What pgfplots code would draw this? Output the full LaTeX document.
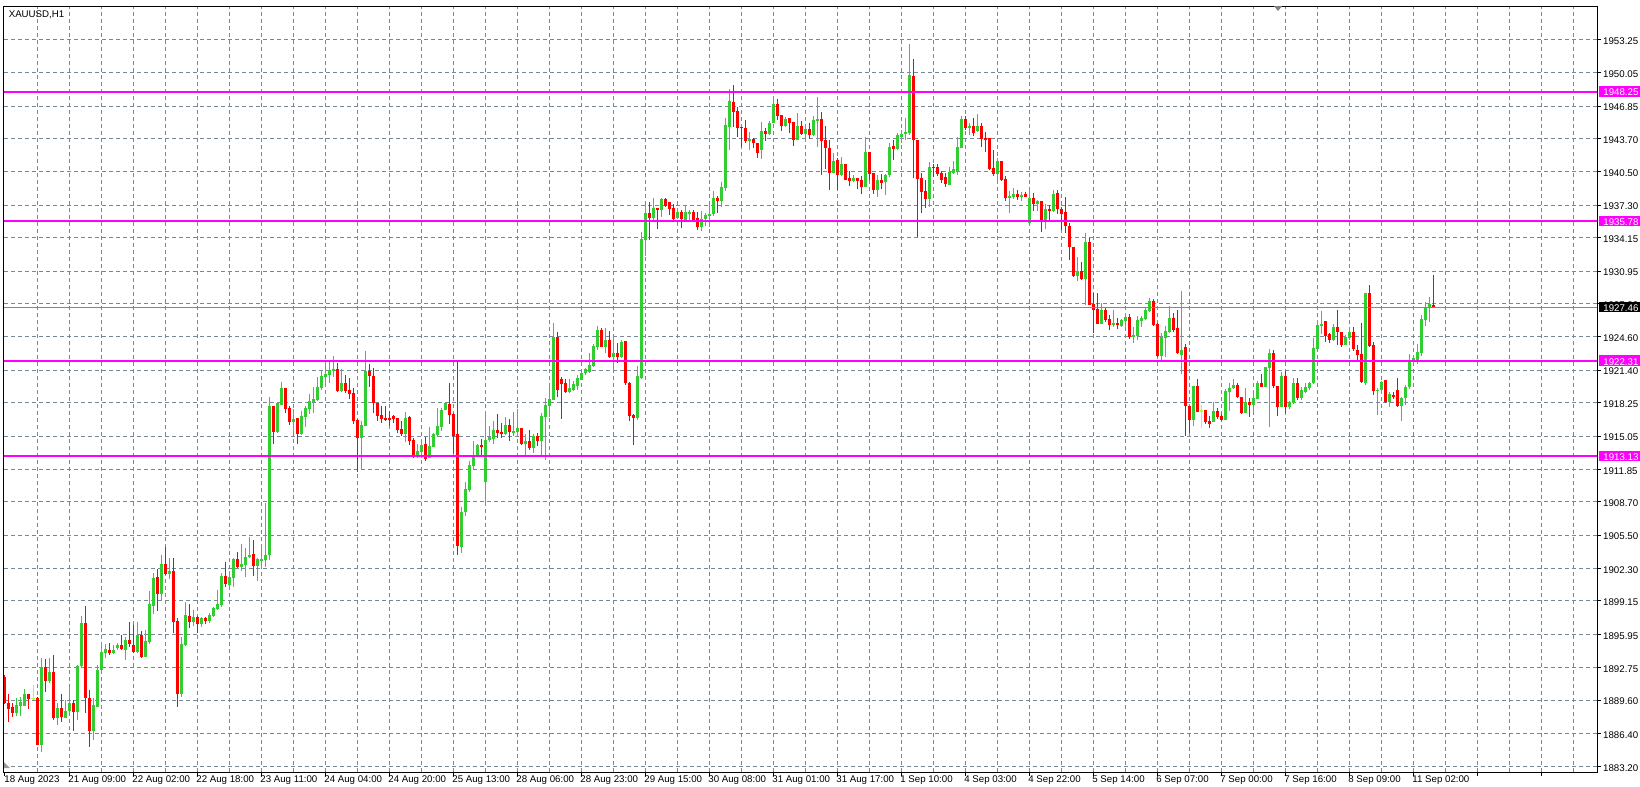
\documentclass[border=0pt]{standalone}
\usepackage{pgfplots}
\pgfplotsset{compat=1.18}
\usepackage{pgfplotstable}
\usepackage{fontspec}
\setmainfont{Liberation Sans}
\definecolor{gridc}{HTML}{778899}
\definecolor{bull}{HTML}{32CD32}
\definecolor{bear}{HTML}{FF0000}
\definecolor{dojic}{HTML}{ADFF2F}
\definecolor{mag}{HTML}{FF00FF}
\newcommand{\lab}{\fontsize{4.85pt}{5.8pt}\selectfont}
\pgfplotstableread{
k O H L C
0 1891.80 1892.00 1889.20 1889.35
1 1889.35 1890.25 1887.52 1888.77
2 1888.90 1889.29 1888.00 1888.39
3 1888.33 1889.77 1888.07 1889.13
4 1889.03 1889.87 1888.07 1889.42
5 1889.06 1890.70 1889.06 1890.19
6 1890.19 1890.19 1888.71 1889.74
7 1889.77 1891.06 1889.61 1889.77
8 1889.80 1889.87 1885.27 1885.27
9 1885.27 1893.63 1884.57 1892.76
10 1892.76 1893.53 1890.41 1891.47
11 1891.47 1893.63 1891.22 1892.34
12 1892.34 1893.95 1887.68 1887.91
13 1887.91 1889.29 1887.20 1888.84
14 1888.84 1890.25 1887.52 1887.97
15 1887.91 1889.61 1887.84 1888.58
16 1888.58 1890.89 1888.33 1889.29
17 1889.29 1889.61 1886.66 1888.49
18 1888.49 1892.98 1887.68 1892.89
19 1892.89 1897.70 1892.66 1897.06
20 1897.06 1898.67 1888.33 1889.84
21 1889.84 1890.57 1885.11 1886.66
22 1886.66 1889.77 1885.76 1889.13
23 1888.97 1892.98 1888.90 1892.50
24 1892.50 1895.07 1892.34 1894.24
25 1894.17 1895.01 1893.63 1894.49
26 1894.49 1895.07 1893.95 1894.14
27 1894.14 1894.91 1894.04 1894.49
28 1894.62 1895.07 1894.43 1894.91
29 1894.91 1895.87 1894.43 1894.49
30 1894.43 1895.71 1893.46 1895.39
31 1895.39 1897.09 1894.75 1894.97
32 1894.97 1896.84 1894.17 1894.27
33 1894.27 1897.09 1894.17 1895.87
34 1895.88 1896.26 1893.69 1893.79
35 1893.79 1896.36 1893.79 1895.30
36 1895.24 1900.15 1894.98 1898.87
37 1898.70 1901.88 1897.90 1901.37
38 1901.47 1902.24 1898.22 1899.86
39 1899.86 1903.59 1899.19 1902.72
40 1902.72 1904.36 1901.66 1901.76
41 1901.76 1903.27 1901.27 1902.05
42 1902.05 1903.30 1896.10 1897.16
43 1897.23 1897.48 1888.97 1890.22
44 1890.22 1895.72 1889.93 1895.01
45 1894.91 1899.06 1894.82 1897.77
46 1897.71 1898.87 1896.58 1897.16
47 1897.16 1898.29 1896.74 1897.61
48 1897.61 1897.71 1896.10 1896.97
49 1896.97 1897.64 1896.68 1897.52
50 1897.52 1897.64 1896.94 1897.23
51 1897.23 1897.97 1897.07 1897.80
52 1897.74 1898.54 1897.64 1898.48
53 1898.35 1900.21 1898.29 1898.83
54 1898.77 1901.82 1898.61 1901.56
55 1901.56 1902.91 1900.54 1900.79
56 1900.70 1902.08 1900.54 1901.47
57 1901.40 1903.33 1900.54 1903.20
58 1903.20 1903.88 1902.30 1902.46
59 1902.46 1904.65 1902.08 1902.72
60 1902.62 1904.26 1901.50 1903.39
61 1903.39 1905.32 1903.33 1903.59
62 1903.68 1905.03 1901.56 1902.53
63 1902.53 1903.27 1901.11 1903.20
64 1903.01 1904.54 1902.30 1903.20
65 1903.11 1908.56 1902.40 1903.59
66 1903.59 1918.77 1903.10 1917.94
67 1917.94 1917.94 1914.28 1915.43
68 1915.43 1918.26 1915.37 1918.20
69 1918.04 1920.25 1918.04 1919.64
70 1919.64 1919.64 1917.30 1917.62
71 1917.72 1917.94 1916.11 1916.43
72 1916.40 1917.62 1915.47 1916.69
73 1916.75 1916.75 1914.28 1915.24
74 1915.24 1917.49 1915.14 1916.98
75 1916.91 1917.94 1915.95 1917.72
76 1917.65 1919.16 1917.17 1918.42
77 1918.33 1919.80 1917.30 1918.61
78 1918.52 1920.77 1918.45 1919.80
79 1919.64 1921.41 1919.48 1920.83
80 1920.77 1922.21 1919.74 1921.02
81 1920.93 1922.21 1920.12 1921.41
82 1921.34 1922.79 1920.70 1921.54
83 1921.50 1922.12 1919.32 1919.39
84 1919.39 1921.47 1919.32 1920.19
85 1920.19 1920.93 1919.16 1919.42
86 1919.48 1920.61 1918.61 1919.10
87 1919.23 1919.64 1916.21 1916.53
88 1916.59 1916.69 1911.61 1914.89
89 1914.89 1916.53 1911.84 1916.11
90 1916.01 1923.24 1916.01 1921.31
91 1921.31 1922.05 1919.80 1920.83
92 1920.83 1921.57 1917.23 1918.20
93 1918.20 1918.20 1916.53 1916.98
94 1917.04 1917.94 1916.33 1916.72
95 1916.75 1917.94 1916.53 1916.65
96 1916.75 1917.49 1916.01 1916.65
97 1916.98 1917.07 1916.33 1916.72
98 1916.75 1916.75 1915.37 1915.63
99 1915.72 1916.52 1915.05 1915.24
100 1915.24 1917.39 1914.50 1916.84
101 1916.84 1916.97 1914.18 1914.59
102 1914.66 1914.82 1912.89 1913.12
103 1913.12 1914.24 1912.89 1913.60
104 1913.54 1914.72 1912.89 1914.24
105 1914.34 1914.92 1912.64 1912.89
106 1912.89 1915.94 1912.89 1914.08
107 1914.02 1915.37 1913.95 1915.24
108 1915.14 1917.81 1914.98 1916.01
109 1915.94 1917.71 1915.56 1917.55
110 1917.55 1918.35 1917.55 1918.26
111 1918.19 1920.18 1916.20 1917.07
112 1917.17 1917.23 1913.44 1915.05
113 1915.24 1922.30 1903.58 1904.44
114 1904.38 1908.23 1903.80 1907.75
115 1907.75 1910.64 1907.34 1909.91
116 1909.84 1912.64 1909.68 1912.25
117 1912.15 1914.56 1911.77 1913.21
118 1913.12 1914.34 1913.05 1914.18
119 1914.24 1914.72 1913.21 1914.02
120 1910.64 1917.49 1908.72 1914.72
121 1914.66 1916.01 1914.50 1914.98
122 1914.82 1916.49 1914.34 1915.62
123 1915.62 1917.23 1914.92 1915.37
124 1915.46 1916.27 1914.82 1915.24
125 1915.24 1916.84 1915.14 1916.11
126 1916.11 1916.65 1914.59 1915.46
127 1915.46 1917.39 1915.05 1915.53
128 1915.46 1917.62 1915.05 1915.85
129 1915.85 1915.85 1914.18 1914.34
130 1914.27 1915.24 1913.21 1914.56
131 1914.57 1915.63 1913.70 1913.93
132 1913.93 1915.21 1913.38 1915.05
133 1915.05 1915.37 1914.09 1914.60
134 1914.60 1917.24 1913.22 1916.98
135 1916.92 1918.68 1912.74 1918.04
136 1917.94 1919.97 1916.92 1918.59
137 1918.52 1925.91 1918.52 1924.56
138 1924.56 1925.11 1918.84 1919.49
139 1920.52 1920.77 1916.66 1920.06
140 1920.19 1920.52 1919.16 1919.33
141 1919.30 1920.52 1919.23 1919.65
142 1919.49 1920.39 1919.42 1920.06
143 1919.87 1920.93 1919.49 1920.61
144 1920.51 1921.25 1920.45 1921.16
145 1921.09 1921.57 1920.93 1921.48
146 1921.25 1923.02 1921.16 1921.90
147 1921.80 1923.89 1921.74 1923.73
148 1923.67 1925.66 1923.34 1925.27
149 1925.27 1925.43 1923.67 1923.67
150 1923.67 1925.49 1923.08 1924.31
151 1924.31 1925.17 1922.54 1922.70
152 1922.70 1924.69 1921.41 1923.08
153 1923.08 1924.05 1922.12 1922.70
154 1922.70 1924.31 1922.54 1924.11
155 1924.21 1924.21 1919.97 1920.13
156 1920.19 1920.29 1916.53 1916.98
157 1917.08 1917.17 1914.18 1916.82
158 1916.82 1921.80 1916.60 1920.84
159 1920.61 1934.75 1920.51 1934.01
160 1933.94 1937.47 1932.40 1936.51
161 1936.51 1937.57 1933.94 1936.09
162 1936.09 1937.96 1935.64 1936.99
163 1937.06 1937.06 1934.97 1936.83
164 1936.83 1938.02 1936.19 1937.86
165 1937.86 1937.95 1937.09 1937.25
166 1937.57 1937.57 1936.35 1936.92
167 1937.02 1937.38 1935.70 1935.96
168 1936.03 1936.89 1935.96 1936.60
169 1936.60 1936.83 1935.13 1935.96
170 1935.86 1937.25 1935.80 1936.60
171 1936.44 1936.83 1935.70 1936.60
172 1936.60 1936.83 1935.77 1935.86
173 1936.03 1936.67 1934.97 1935.22
174 1935.22 1936.76 1934.84 1935.96
175 1935.96 1936.51 1935.29 1936.35
176 1936.28 1937.31 1935.22 1936.44
177 1936.44 1938.69 1936.25 1938.02
178 1938.02 1938.18 1936.51 1937.73
179 1937.73 1939.56 1937.09 1939.01
180 1938.92 1945.66 1938.69 1945.02
181 1944.86 1948.49 1942.61 1947.33
182 1947.27 1948.87 1944.86 1946.31
183 1946.37 1946.79 1943.90 1944.76
184 1944.86 1944.86 1942.87 1944.76
185 1944.76 1945.50 1943.32 1943.51
186 1943.51 1944.38 1942.61 1943.67
187 1943.67 1943.80 1942.84 1943.32
188 1943.32 1943.32 1941.87 1942.29
189 1942.61 1945.34 1941.74 1944.47
190 1944.47 1944.70 1943.51 1944.12
191 1944.12 1945.43 1944.02 1945.24
192 1945.18 1947.68 1945.18 1947.04
193 1947.04 1947.59 1945.50 1945.92
194 1945.98 1945.98 1944.47 1944.92
195 1944.98 1945.82 1944.79 1945.60
196 1945.66 1945.66 1944.28 1945.24
197 1945.34 1945.34 1943.00 1943.57
198 1943.57 1946.21 1943.57 1944.92
199 1944.92 1945.40 1944.05 1944.15
200 1944.15 1945.02 1943.41 1944.60
201 1944.60 1945.18 1943.64 1944.05
202 1944.05 1945.89 1943.96 1945.50
203 1945.44 1947.68 1942.93 1945.60
204 1945.60 1946.30 1940.20 1943.51
205 1943.57 1944.92 1940.75 1942.83
206 1942.83 1943.57 1938.75 1940.43
207 1940.43 1942.35 1940.36 1941.55
208 1941.65 1941.81 1938.82 1940.20
209 1940.20 1941.90 1940.10 1941.26
210 1941.26 1941.32 1939.72 1939.78
211 1939.94 1940.58 1939.14 1939.65
212 1939.65 1940.20 1939.56 1939.88
213 1939.94 1939.94 1938.82 1939.65
214 1939.72 1940.10 1938.37 1939.08
215 1939.08 1943.83 1939.08 1942.45
216 1942.45 1942.45 1939.72 1940.30
217 1940.43 1940.43 1938.37 1938.75
218 1938.75 1940.20 1938.05 1939.78
219 1939.78 1940.36 1938.91 1939.46
220 1939.56 1940.36 1938.27 1940.20
221 1940.20 1943.32 1940.04 1942.93
222 1943.00 1943.57 1941.65 1942.67
223 1942.67 1944.28 1942.61 1944.05
224 1943.89 1944.54 1943.25 1944.15
225 1944.15 1945.66 1943.57 1944.38
226 1944.22 1952.82 1944.05 1949.84
227 1949.74 1951.38 1939.88 1943.57
228 1943.57 1943.57 1934.26 1939.88
229 1939.94 1940.36 1936.51 1938.59
230 1938.66 1939.72 1936.99 1937.89
231 1937.89 1941.42 1937.15 1941.00
232 1941.00 1941.26 1939.98 1940.91
233 1941.00 1941.26 1940.10 1940.30
234 1940.43 1940.62 1939.40 1939.72
235 1940.04 1940.36 1939.01 1939.33
236 1939.24 1941.00 1939.24 1940.46
237 1940.36 1941.55 1940.30 1940.78
238 1940.62 1943.89 1940.20 1942.93
239 1942.83 1945.89 1942.77 1945.60
240 1945.60 1945.89 1944.54 1944.70
241 1944.76 1945.18 1944.05 1944.92
242 1944.92 1945.66 1943.96 1944.28
243 1944.44 1946.14 1944.38 1944.92
244 1944.92 1945.18 1942.93 1943.64
245 1943.80 1944.38 1942.45 1943.64
246 1943.73 1943.73 1940.68 1940.78
247 1940.84 1942.61 1940.10 1940.30
248 1940.30 1941.90 1939.40 1941.55
249 1941.55 1941.55 1939.65 1939.72
250 1939.78 1940.10 1937.73 1938.02
251 1938.02 1938.69 1936.57 1938.21
252 1938.11 1938.91 1937.86 1938.43
253 1938.43 1938.75 1937.79 1938.11
254 1938.11 1938.59 1937.73 1938.27
255 1938.37 1938.59 1938.05 1938.11
256 1935.61 1938.66 1935.54 1937.95
257 1937.95 1938.43 1936.76 1937.41
258 1937.41 1937.79 1936.76 1937.69
259 1937.69 1937.69 1934.74 1935.70
260 1935.70 1937.41 1934.97 1936.92
261 1936.93 1937.31 1935.87 1936.77
262 1936.77 1938.76 1936.67 1938.37
263 1938.44 1938.76 1936.45 1936.90
264 1936.93 1937.15 1934.91 1936.45
265 1936.67 1938.12 1934.58 1935.32
266 1935.32 1935.55 1932.01 1933.30
267 1933.30 1933.30 1930.34 1930.47
268 1930.47 1932.27 1930.02 1930.99
269 1930.99 1931.85 1930.09 1930.15
270 1930.15 1934.65 1927.68 1933.78
271 1933.78 1934.10 1927.68 1927.68
272 1927.74 1928.80 1925.01 1927.20
273 1927.29 1928.80 1925.85 1925.85
274 1925.85 1927.84 1925.85 1927.20
275 1927.20 1927.36 1926.07 1926.23
276 1926.30 1926.71 1925.27 1925.75
277 1925.75 1927.20 1925.59 1925.91
278 1925.91 1926.39 1925.33 1925.75
279 1925.66 1926.30 1925.59 1926.23
280 1926.17 1926.87 1925.43 1926.55
281 1926.55 1926.81 1924.37 1924.56
282 1924.56 1925.59 1924.05 1924.79
283 1924.69 1926.62 1924.31 1926.23
284 1926.13 1926.62 1925.59 1926.46
285 1926.30 1927.45 1926.23 1927.20
286 1927.13 1928.32 1927.04 1928.06
287 1928.06 1928.22 1925.66 1925.75
288 1925.85 1925.91 1922.70 1922.76
289 1922.76 1924.95 1922.38 1924.63
290 1924.47 1925.65 1922.70 1925.20
291 1925.11 1927.58 1925.01 1926.46
292 1926.46 1926.87 1925.11 1925.27
293 1925.46 1927.20 1922.96 1923.02
294 1922.86 1929.06 1921.03 1923.34
295 1923.60 1923.92 1915.09 1917.94
296 1917.94 1917.94 1915.31 1916.60
297 1916.60 1919.87 1916.02 1919.87
298 1919.87 1920.55 1917.40 1917.40
299 1917.50 1918.04 1915.86 1917.50
300 1917.56 1917.56 1916.21 1916.44
301 1916.50 1916.98 1915.79 1916.21
302 1916.44 1918.30 1916.44 1917.46
303 1917.46 1917.78 1916.70 1916.92
304 1917.02 1917.14 1916.54 1916.60
305 1916.60 1919.58 1916.60 1919.39
306 1919.33 1920.19 1917.49 1919.71
307 1919.65 1920.55 1919.55 1919.97
308 1919.97 1920.19 1918.68 1918.84
309 1918.84 1918.84 1917.17 1917.30
310 1917.30 1919.71 1917.24 1918.33
311 1918.36 1918.68 1916.92 1918.04
312 1918.04 1919.10 1917.24 1918.75
313 1918.62 1920.35 1918.59 1920.19
314 1920.19 1921.03 1919.81 1919.81
315 1919.81 1921.73 1919.74 1921.67
316 1921.57 1923.44 1915.95 1923.02
317 1923.02 1923.34 1919.65 1919.87
318 1919.87 1919.87 1917.01 1917.82
319 1917.82 1921.25 1917.82 1920.84
320 1920.84 1921.35 1917.30 1917.88
321 1917.82 1918.46 1917.62 1918.33
322 1918.20 1920.61 1918.14 1920.19
323 1920.19 1920.61 1918.52 1918.68
324 1918.68 1919.74 1918.52 1919.49
325 1919.33 1920.19 1919.23 1919.74
326 1919.68 1920.28 1919.48 1920.18
327 1920.12 1924.46 1920.06 1923.49
328 1923.40 1926.22 1923.33 1925.74
329 1925.64 1927.12 1924.87 1925.84
330 1926.16 1926.16 1924.14 1924.68
331 1924.87 1924.94 1924.04 1924.30
332 1924.30 1925.84 1924.23 1925.58
333 1925.58 1927.19 1923.81 1925.10
334 1925.10 1925.10 1923.65 1923.81
335 1923.81 1924.78 1923.81 1924.55
336 1924.46 1925.58 1924.36 1925.10
337 1925.10 1925.52 1923.27 1923.40
338 1923.40 1923.81 1922.37 1922.85
339 1922.95 1925.97 1920.18 1920.28
340 1920.18 1928.86 1919.96 1928.79
341 1928.79 1929.60 1923.65 1923.72
342 1923.81 1924.14 1919.00 1919.41
343 1919.41 1919.64 1917.07 1919.54
344 1919.48 1920.38 1919.41 1920.28
345 1920.44 1920.51 1918.26 1918.35
346 1918.35 1919.32 1917.81 1919.09
347 1918.99 1919.32 1918.58 1918.93
348 1919.54 1920.60 1917.87 1917.94
349 1917.94 1918.83 1916.52 1918.67
350 1918.67 1919.96 1918.03 1919.80
351 1919.74 1923.01 1919.64 1922.31
352 1922.21 1922.69 1922.05 1922.53
353 1922.21 1923.98 1922.05 1923.17
354 1923.08 1926.71 1922.76 1926.29
355 1926.22 1927.99 1925.65 1927.45
356 1927.35 1928.41 1926.06 1927.77
357 1927.67 1930.56 1927.35 1927.46
}\candles
\pgfplotsset{
  wick/.style={draw=none, mark=none, forget plot,
    error bars/y dir=both, error bars/y explicit, error bars/error mark=none,
    error bars/error bar style={draw=#1, line width=0.5pt, line cap=butt}},
  body/.style={draw=none, mark=none, forget plot,
    error bars/y dir=both, error bars/y explicit, error bars/error mark=none,
    error bars/error bar style={draw=#1, line width=1.5pt, line cap=butt}},
}
\begin{document}
\begin{tikzpicture}
\useasboundingbox (0pt,0pt) rectangle (820pt,-393.5pt);
\fill[white] (0pt,0pt) rectangle (820pt,-393.5pt);
\begin{axis}[
  at={(2pt,-386pt)}, anchor=south west,
  scale only axis, width=796.5pt, height=383pt,
  xmin=-0.25, xmax=398, ymin=1882.67, ymax=1956.49,
  clip mode=individual,
  axis line style={black, line width=0.5pt},
  tick align=outside, major tick length=2pt, minor tick length=0pt,
  tick style={black, line width=0.5pt},
  xtick pos=lower, ytick pos=upper, xticklabel pos=lower, yticklabel pos=upper,
  xtick={16,32,...,384},
  xticklabels={21 Aug 09:00,22 Aug 02:00,22 Aug 18:00,23 Aug 11:00,24 Aug 04:00,24 Aug 20:00,25 Aug 13:00,28 Aug 06:00,28 Aug 23:00,29 Aug 15:00,30 Aug 08:00,31 Aug 01:00,31 Aug 17:00,1 Sep 10:00,4 Sep 03:00,4 Sep 22:00,5 Sep 14:00,6 Sep 07:00,7 Sep 00:00,7 Sep 16:00,8 Sep 09:00,11 Sep 02:00,{},{}},
  minor xtick={8,24,...,392},
  extra x ticks={0}, extra x tick labels={18 Aug 2023},
  extra x tick style={grid=none},
  xmajorgrids, xminorgrids, ymajorgrids,
  grid style={gridc, line width=0.5pt, dash pattern=on 2pt off 1.5pt},
  minor grid style={gridc, line width=0.5pt, dash pattern=on 2pt off 1.5pt},
  ytick={1883.20,1886.40,1889.60,1892.75,1895.95,1899.15,1902.30,1905.50,1908.70,1911.85,1915.05,1918.25,1921.40,1924.60,1927.80,1930.95,1934.15,1937.30,1940.50,1943.70,1946.85,1950.05,1953.25},
  yticklabels={1883.20,1886.40,1889.60,1892.75,1895.95,1899.15,1902.30,1905.50,1908.70,1911.85,1915.05,1918.25,1921.40,1924.60,1927.80,1930.95,1934.15,1937.30,1940.50,1943.70,1946.85,1950.05,1953.25},
  xticklabel style={anchor=north west, inner sep=0pt, xshift=-0.5pt, yshift=0.2pt, font=\lab},
  yticklabel style={anchor=west, inner sep=0pt, xshift=0.9pt, yshift=-0.75pt, font=\lab},
]
% wicks
\addplot[restrict expr to domain={\thisrow{C}-\thisrow{O}}{0.001:1000}, wick=bull]
  table[x=k, y expr={(\thisrow{H}+\thisrow{L})/2}, y error expr={(\thisrow{H}-\thisrow{L})/2}] {\candles};
\addplot[restrict expr to domain={\thisrow{C}-\thisrow{O}}{-1000:-0.001}, wick=bear]
  table[x=k, y expr={(\thisrow{H}+\thisrow{L})/2}, y error expr={(\thisrow{H}-\thisrow{L})/2}] {\candles};
\addplot[restrict expr to domain={\thisrow{C}-\thisrow{O}}{-0.0005:0.0005}, wick=dojic]
  table[x=k, y expr={(\thisrow{H}+\thisrow{L})/2}, y error expr={(\thisrow{H}-\thisrow{L})/2}] {\candles};
% bodies
\addplot[restrict expr to domain={\thisrow{C}-\thisrow{O}}{0.001:1000}, body=bull]
  table[x=k, y expr={(\thisrow{O}+\thisrow{C})/2}, y error expr={max(abs(\thisrow{C}-\thisrow{O})/2,0.05)}] {\candles};
\addplot[restrict expr to domain={\thisrow{C}-\thisrow{O}}{-1000:-0.001}, body=bear]
  table[x=k, y expr={(\thisrow{O}+\thisrow{C})/2}, y error expr={max(abs(\thisrow{C}-\thisrow{O})/2,0.05)}] {\candles};
\addplot[restrict expr to domain={\thisrow{C}-\thisrow{O}}{-0.0005:0.0005}, body=dojic]
  table[x=k, y expr={(\thisrow{O}+\thisrow{C})/2}, y error expr={0.05}] {\candles};
% horizontal lines
\addplot[gridc, line width=0.5pt, forget plot] coordinates {(-1,1927.46) (400,1927.46)};
\addplot[mag, line width=1pt, forget plot] coordinates {(-1,1948.25) (400,1948.25)};
\addplot[mag, line width=1pt, forget plot] coordinates {(-1,1935.78) (400,1935.78)};
\addplot[mag, line width=1pt, forget plot] coordinates {(-1,1922.31) (400,1922.31)};
\addplot[mag, line width=1pt, forget plot] coordinates {(-1,1913.13) (400,1913.13)};
\coordinate (P1) at (axis cs:398,1948.25);
\coordinate (P2) at (axis cs:398,1935.78);
\coordinate (P3) at (axis cs:398,1922.31);
\coordinate (P4) at (axis cs:398,1913.13);
\coordinate (P0) at (axis cs:398,1927.46);
\end{axis}
% price labels on the right
\foreach \p/\t/\c in {P1/1948.25/mag, P2/1935.78/mag, P3/1922.31/mag, P4/1913.13/mag, P0/1927.46/black}{
  \fill[\c] ([xshift=1pt,yshift=-2.6pt]\p) rectangle ([xshift=30pt,yshift=2.6pt]\p);
  \node[anchor=west, inner sep=0pt, text=white, font=\lab] at ([xshift=3pt,yshift=-0.5pt]\p) {\t};
}
% title
\node[anchor=base west, inner sep=0pt, font=\lab] at (4.2pt,-9pt) {XAUUSD,H1};
% chart shift marker
\fill[gray] (637pt,-3pt) -- (641pt,-3pt) -- (639pt,-5.5pt) -- cycle;
\fill[gray!80] (2pt,-384pt) -- (5pt,-384pt) -- (2pt,-381pt) -- cycle;
\end{tikzpicture}
\end{document}
